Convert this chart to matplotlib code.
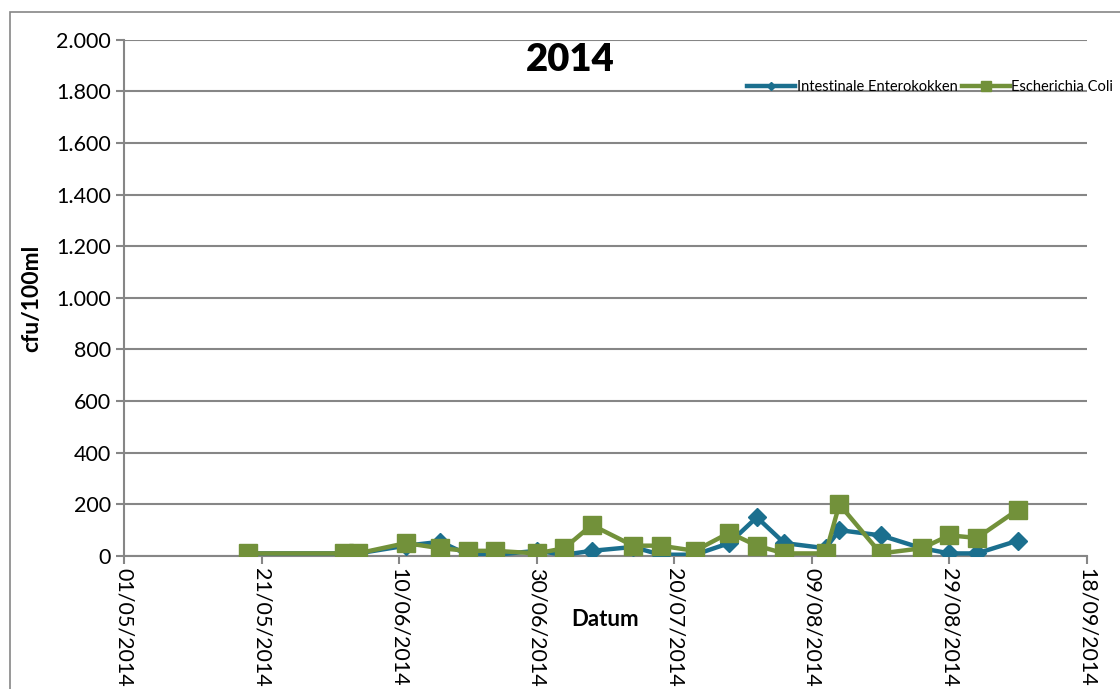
import matplotlib
matplotlib.use("Agg")
import matplotlib.pyplot as plt
import matplotlib.dates as mdates
from matplotlib.ticker import FuncFormatter, MultipleLocator
import numpy as np
import pandas as pd

# Datos
dates = pd.to_datetime([
    "2014-05-19", "2014-06-02", "2014-06-04", "2014-06-11", "2014-06-16",
    "2014-06-20", "2014-06-24", "2014-06-30", "2014-07-04", "2014-07-08",
    "2014-07-14", "2014-07-18", "2014-07-23", "2014-07-28", "2014-08-01",
    "2014-08-05", "2014-08-11", "2014-08-13", "2014-08-19", "2014-08-25",
    "2014-08-29", "2014-09-02", "2014-09-08",
])
enterokokken = [10, 10, 10, 40, 55, 5, 5, 20, 5, 20,
                35, 5, 5, 50, 150, 50, 30, 100, 80, 30,
                10, 10, 60]
ecoli = [10, 10, 10, 50, 30, 20, 20, 10, 30, 120,
         40, 40, 20, 90, 40, 10, 10, 200, 10, 30,
         80, 70, 180]

title = "2014"
ylabel = "cfu/100ml"
xlabel = "Datum"
labels = ["Intestinale Enterokokken", "Escherichia Coli"]

blue = "#1B6F8E"
green = "#72913A"
grey = "#868686"

plt.rcParams["font.family"] = ["Lato", "DejaVu Sans"]

W, H = 1120, 689
fig = plt.figure(figsize=(W / 100, H / 100), dpi=100)
ax = fig.add_axes([124 / W, (H - 556) / H, (1087 - 124) / W, (556 - 39.6) / H])

ax.plot(dates, enterokokken, color=blue, lw=3.2, marker="D", ms=9,
        label=labels[0], zorder=3)
ax.plot(dates, ecoli, color=green, lw=3.2, marker="s", ms=13.5,
        label=labels[1], zorder=4)

ax.set_ylim(0, 2000)
ax.set_xlim(pd.Timestamp("2014-05-01"), pd.Timestamp("2014-09-18"))
ax.yaxis.set_major_locator(MultipleLocator(200))
ax.yaxis.set_major_formatter(FuncFormatter(lambda v, p: f"{int(v):,}".replace(",", ".")))
xt = pd.date_range("2014-05-01", "2014-09-18", freq="20D")
ax.set_xticks(xt)
ax.xaxis.set_major_formatter(mdates.DateFormatter("%d/%m/%Y"))

ax.grid(axis="y", color=grey, lw=1.5)
ax.set_axisbelow(True)
for s in ["top", "right"]:
    ax.spines[s].set_visible(False)
for s in ["left", "bottom"]:
    ax.spines[s].set_color(grey)
    ax.spines[s].set_linewidth(1.5)
ax.tick_params(axis="both", colors=grey, width=1.5, length=6, labelsize=15.5,
               labelcolor="black")
ax.tick_params(axis="x", pad=3)
plt.setp(ax.get_xticklabels(), rotation=-90, ha="center", va="top")

fig.text(570 / W, 1 - 60 / H, title, fontsize=27.5, fontweight="heavy",
         ha="center", va="center")
fig.text(32 / W, 1 - 298 / H, ylabel, fontsize=16.5, fontweight="bold",
         rotation=90, ha="center", va="center")
fig.text(605 / W, 1 - 620 / H, xlabel, fontsize=16, fontweight="bold",
         ha="center", va="center")

leg = ax.legend(loc="upper right", bbox_to_anchor=(1.041, 0.947), ncol=2,
                frameon=False, fontsize=10.5, handlelength=3.3, handletextpad=0.1,
                columnspacing=0.3, markerscale=0.5)

# Marco del área del gráfico
fig.patches.append(plt.Rectangle((10 / W, -0.02), 1.1, 1 - 12 / H + 0.02,
                                 transform=fig.transFigure, fill=False,
                                 ec=grey, lw=1.2))

fig.savefig("out.png", dpi=100)
